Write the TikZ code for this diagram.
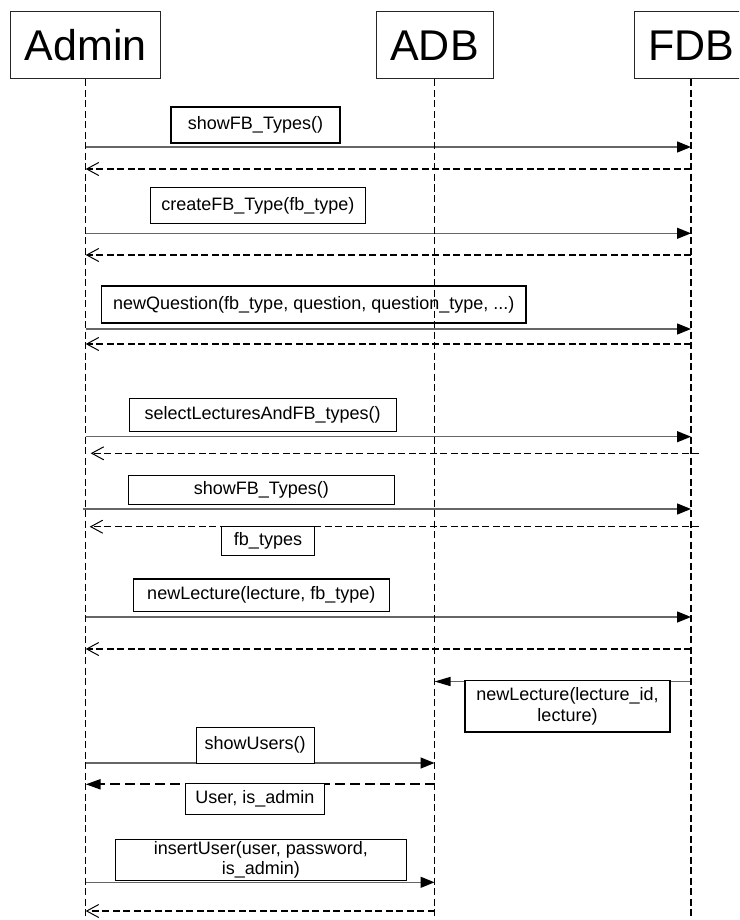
\documentclass[tikz,border=0pt]{standalone}
\usepackage{fontspec}
\setmainfont{Liberation Sans}
\usetikzlibrary{arrows.meta}

\tikzset{
  lifehead/.style={draw=black!85, line width=1pt, fill=white, inner sep=0pt,
    minimum height=67pt, font=\fontsize{43}{43}\selectfont},
  lifeline/.style={line width=1.5pt, dash pattern=on 7pt off 3.5pt},
  msgbox/.style={draw, line width=1.1pt, fill=white, inner sep=0pt, align=center,
    font=\fontsize{18}{20.5}\selectfont},
  call/.style={line width=1.4pt, draw=black!60,
    -{Triangle[length=14pt,width=11pt,color=black]}},
  reply/.style={line width=1.5pt, dash pattern=on 7pt off 3.5pt,
    -{Straight Barb[length=12pt,width=13pt,line width=1pt]}},
  replyfilled/.style={line width=2.2pt, dash pattern=on 10pt off 5pt,
    -{Triangle[length=15pt,width=10pt]}},
  backcall/.style={line width=1.4pt, draw=black!60,
    -{Triangle[length=16pt,width=9pt,color=black]}},
}

\begin{document}
\begin{tikzpicture}[x=1pt, y=-1pt]
  \fill[white] (0,0) rectangle (739,920);
  \clip (0,0) rectangle (739,920);

  % participants
  \node[lifehead, minimum width=150pt] (admin) at (85.7,45.5) {Admin};
  \node[lifehead, minimum width=117pt] (adb)   at (434.5,45.5) {ADB};
  \node[lifehead, minimum width=114pt] (fdb)   at (691,45.5) {FDB};
  \coordinate (bottom) at (0,920);

  % message rows
  \coordinate (c1) at (0,147);   \coordinate (r1) at (0,169);
  \coordinate (c2) at (0,233.3); \coordinate (r2) at (0,255);
  \coordinate (c3) at (0,329);   \coordinate (r3) at (0,344);
  \coordinate (c4) at (0,436.7); \coordinate (r4) at (0,453.3);
  \coordinate (c5) at (0,509);   \coordinate (r5) at (0,526.7);
  \coordinate (c6) at (0,617);   \coordinate (r6) at (0,649);
  \coordinate (c7) at (0,681.5);
  \coordinate (c8) at (0,763);   \coordinate (r8) at (0,784.3);
  \coordinate (c9) at (0,882.3); \coordinate (r9) at (0,911);

  % arrows
  \draw[call]  (admin |- c1) -- (fdb |- c1);
  \draw[reply] (fdb |- r1) -- (admin |- r1);
  \draw[call]  (admin |- c2) -- (fdb |- c2);
  \draw[reply] (fdb |- r2) -- (admin |- r2);
  \draw[call]  (admin |- c3) -- (fdb |- c3);
  \draw[reply] (fdb |- r3) -- (admin |- r3);
  \draw[call]  (admin |- c4) -- (fdb |- c4);
  \draw[reply] ([xshift=8pt]fdb |- r4) -- ([xshift=5pt]admin |- r4);
  \draw[call]  ([xshift=-3pt]admin |- c5) -- (fdb |- c5);
  \draw[reply] ([xshift=8pt]fdb |- r5) -- ([xshift=4pt]admin |- r5);
  \draw[call]  (admin |- c6) -- (fdb |- c6);
  \draw[reply] (fdb |- r6) -- (admin |- r6);
  \draw[backcall] (fdb |- c7) -- (adb |- c7);
  \draw[call]  (admin |- c8) -- (adb |- c8);
  \draw[replyfilled] (adb |- r8) -- (admin |- r8);
  \draw[call]  (admin |- c9) -- (adb |- c9);
  \draw[reply] (adb |- r9) -- (admin |- r9);

  % message labels
  \node[msgbox, minimum width=169pt, minimum height=36pt] (m1) at (255.5,125) {showFB\_Types()};
  \node[msgbox, minimum width=214.3pt, minimum height=35.6pt] (m2) at (257.9,205.5) {createFB\_Type(fb\_type)};
  \node[msgbox, minimum width=424.3pt, minimum height=37pt] (m3) at (313.8,304.5) {newQuestion(fb\_type, question, question\_type, ...)};
  \node[msgbox, minimum width=266.7pt, minimum height=33pt] (m4) at (262.7,415.2) {selectLecturesAndFB\_types()};
  \node[msgbox, minimum width=266pt, minimum height=28.3pt] (m5) at (261.3,489.9) {showFB\_Types()};
  \node[msgbox, minimum width=92.6pt, minimum height=28.3pt] (m5r) at (268,540.9) {fb\_types};
  \node[msgbox, minimum width=256pt, minimum height=32.7pt] (m6) at (261.3,595.3) {newLecture(lecture, fb\_type)};
  \node[msgbox, minimum width=205pt, minimum height=51.3pt] (m7) at (567.5,706.3) {newLecture(lecture\_id,\\lecture)};
  \node[msgbox, minimum width=118.3pt, minimum height=36pt] (m8) at (255.2,745.3) {showUsers()};
  \node[msgbox, minimum width=138.5pt, minimum height=31pt] (m8r) at (254.8,798.8) {User, is\_admin};
  \node[msgbox, minimum width=291.5pt, minimum height=41.4pt] (m9) at (260.8,860) {insertUser(user, password,\\is\_admin)};

  % lifelines
  \draw[lifeline] (admin.south) -- (admin.south |- bottom);
  \draw[lifeline] (adb.south) -- (adb.south |- bottom);
  \draw[lifeline] (fdb.south) -- (fdb.south |- bottom);
\end{tikzpicture}
\end{document}
